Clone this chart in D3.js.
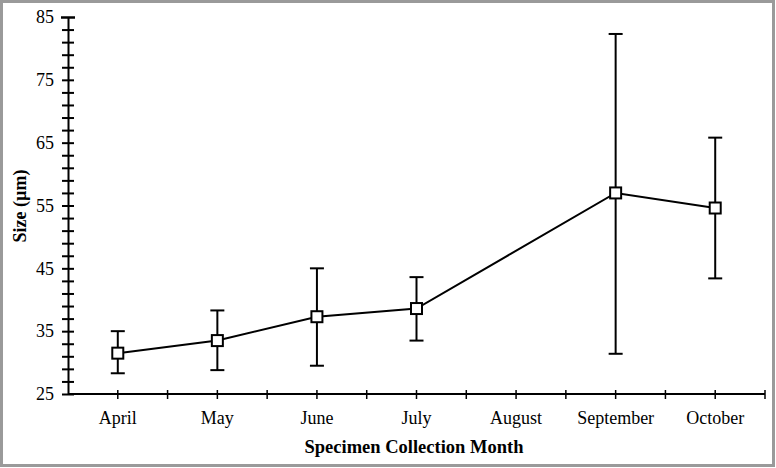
<!DOCTYPE html>
<html>
<head>
<meta charset="utf-8">
<script src="https://cdn.jsdelivr.net/npm/d3@7"></script>
<style>
    html, body { margin: 0; padding: 0; background: #fff; }
    svg { display: block; }
    text { font-family: "Liberation Serif", "Times New Roman", serif; fill: #000; }
</style>
</head>
<body>
<div id="chart-container"></div>
<script>
// Mean size per month with error bar limits (August has no sample)
const months = ['April', 'May', 'June', 'July', 'August', 'September', 'October'];
const meanSize = [31.5, 33.5, 37.3, 38.6, null, 57.0, 54.6];
const lowSize = [28.3, 28.8, 29.5, 33.5, null, 31.4, 43.4];
const highSize = [35.0, 38.3, 45.0, 43.6, null, 82.3, 65.8];
const yTicks = [25, 35, 45, 55, 65, 75, 85];

const WIDTH = 776, HEIGHT = 468;
const FONT_SIZE = 18;
const margin = { left: 68, right: 11, top: 17, bottom: 74 };
const axisWidth = WIDTH - margin.left - margin.right;
const axisHeight = HEIGHT - margin.top - margin.bottom;

const canvas = d3.select('#chart-container').append('svg')
    .attr('width', WIDTH)
    .attr('height', HEIGHT);

// Gray picture frame
canvas.append('rect')
    .attr('x', 1.5).attr('y', 1.5)
    .attr('width', WIDTH - 4).attr('height', HEIGHT - 4)
    .attr('fill', 'none')
    .attr('stroke', '#9a9a9a')
    .attr('stroke-width', 3);

const g = canvas.append('g')
    .attr('transform', `translate(${margin.left},${margin.top})`);

const xScale = d3.scaleBand()
    .domain(months)
    .range([0, axisWidth]);
const xMid = m => xScale(m) + xScale.bandwidth() / 2;

const yScale = d3.scaleLinear()
    .domain([25, 85])
    .range([axisHeight, 0]);

// y axis: major ticks every 10, minor every 2, crossing the line
const yAxis = d3.axisLeft(yScale)
    .tickValues(d3.range(25, 85.01, 2).concat([85]))
    .tickSize(0)
    .tickFormat('');
const yG = g.append('g').call(yAxis);
yG.select('.domain').attr('stroke', '#000').attr('stroke-width', 2);
yG.selectAll('.tick line')
    .attr('x1', -6).attr('x2', 6)
    .attr('stroke', '#000').attr('stroke-width', 2);
yG.selectAll('.tick').filter(d => d === 85).select('line').attr('x1', -7).attr('x2', 7);
g.append('g').selectAll('text')
    .data(yTicks)
    .enter()
    .append('text')
        .attr('x', -14)
        .attr('y', d => yScale(d))
        .attr('dy', '0.35em')
        .attr('text-anchor', 'end')
        .attr('font-size', FONT_SIZE)
        .text(d => d);

// x axis: ticks at category centres and at band edges
const xG = g.append('g')
    .attr('transform', `translate(0,${axisHeight})`);
xG.append('line')
    .attr('x1', 0).attr('x2', axisWidth)
    .attr('stroke', '#000').attr('stroke-width', 2);
const xTickPos = months.map(m => xMid(m))
    .concat(months.slice(1).map(m => xScale(m)))
    .concat([axisWidth]);
xG.selectAll('line.tick')
    .data(xTickPos)
    .enter()
    .append('line')
        .attr('class', 'tick')
        .attr('x1', d => d).attr('x2', d => d)
        .attr('y1', -4).attr('y2', 5)
        .attr('stroke', '#000').attr('stroke-width', 1.5);
xG.selectAll('text')
    .data(months)
    .enter()
    .append('text')
        .attr('x', d => xMid(d))
        .attr('y', 30)
        .attr('text-anchor', 'middle')
        .attr('font-size', FONT_SIZE)
        .text(d => d);

// Axis titles
canvas.append('text')
    .attr('x', 414)
    .attr('y', 453)
    .attr('text-anchor', 'middle')
    .attr('font-size', FONT_SIZE + 0.5)
    .attr('font-weight', 'bold')
    .text('Specimen Collection Month');
canvas.append('text')
    .attr('transform', `translate(26,206) rotate(-90)`)
    .attr('text-anchor', 'middle')
    .attr('font-size', FONT_SIZE)
    .attr('font-weight', 'bold')
    .text('Size (µm)');

const points = months.map((m, i) => ({
    month: m, mean: meanSize[i], low: lowSize[i], high: highSize[i]
})).filter(d => d.mean !== null);

// Error bars
const bars = g.append('g').selectAll('g')
    .data(points)
    .enter()
    .append('g')
        .attr('stroke', '#000')
        .attr('stroke-width', 2);
bars.append('line')
    .attr('x1', d => xMid(d.month)).attr('x2', d => xMid(d.month))
    .attr('y1', d => yScale(d.low)).attr('y2', d => yScale(d.high));
bars.append('line')
    .attr('x1', d => xMid(d.month) - 7).attr('x2', d => xMid(d.month) + 7)
    .attr('y1', d => yScale(d.low)).attr('y2', d => yScale(d.low));
bars.append('line')
    .attr('x1', d => xMid(d.month) - 7).attr('x2', d => xMid(d.month) + 7)
    .attr('y1', d => yScale(d.high)).attr('y2', d => yScale(d.high));

// Mean line (skips August)
g.append('path')
    .datum(points)
    .attr('fill', 'none')
    .attr('stroke', '#000')
    .attr('stroke-width', 2)
    .attr('d', d3.line().x(d => xMid(d.month)).y(d => yScale(d.mean)));

// Square markers
g.append('g').selectAll('rect')
    .data(points)
    .enter()
    .append('rect')
        .attr('x', d => xMid(d.month) - 5.5)
        .attr('y', d => yScale(d.mean) - 5.5)
        .attr('width', 11)
        .attr('height', 11)
        .attr('fill', '#fff')
        .attr('stroke', '#000')
        .attr('stroke-width', 2);
</script>
</body>
</html>
